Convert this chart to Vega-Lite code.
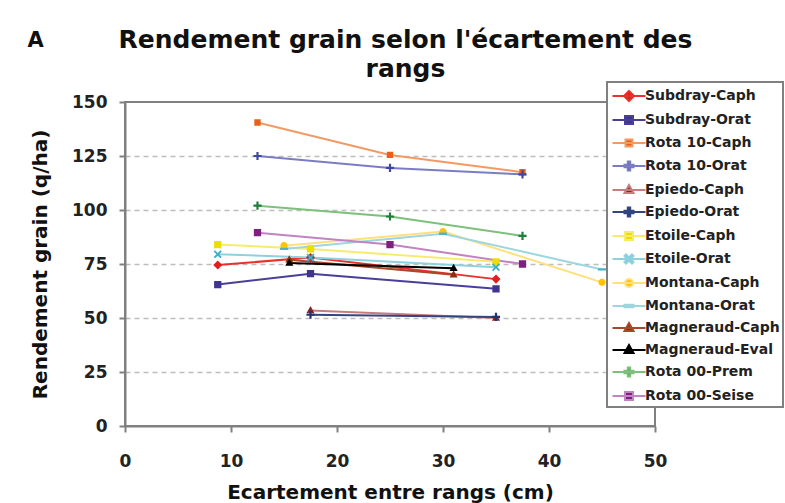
{
  "$schema": "https://vega.github.io/schema/vega-lite/v6.json",
  "width": 530,
  "height": 324,
  "autosize": {"type": "none"},
  "padding": {"left": 125, "top": 102, "right": 130, "bottom": 77},
  "background": "white",
  "config": {"view": {"stroke": "#808080", "strokeWidth": 2}, "font": "DejaVu Sans", "legend": {"strokeWidth": 2}},
  "data": {"values": [
    {"s": "Subdray-Caph", "x": 8.75, "y": 74.5},
    {"s": "Subdray-Caph", "x": 17.5, "y": 78},
    {"s": "Subdray-Caph", "x": 35, "y": 68},
    {"s": "Subdray-Orat", "x": 8.75, "y": 65.5},
    {"s": "Subdray-Orat", "x": 17.5, "y": 70.5},
    {"s": "Subdray-Orat", "x": 35, "y": 63.5},
    {"s": "Rota 10-Caph", "x": 12.5, "y": 140.5},
    {"s": "Rota 10-Caph", "x": 25, "y": 125.5},
    {"s": "Rota 10-Caph", "x": 37.5, "y": 117.5},
    {"s": "Rota 10-Orat", "x": 12.5, "y": 125},
    {"s": "Rota 10-Orat", "x": 25, "y": 119.5},
    {"s": "Rota 10-Orat", "x": 37.5, "y": 116.5},
    {"s": "Epiedo-Caph", "x": 17.5, "y": 53.5},
    {"s": "Epiedo-Caph", "x": 35, "y": 50},
    {"s": "Epiedo-Orat", "x": 17.5, "y": 51.5},
    {"s": "Epiedo-Orat", "x": 35, "y": 50.5},
    {"s": "Etoile-Caph", "x": 8.75, "y": 84},
    {"s": "Etoile-Caph", "x": 17.5, "y": 82},
    {"s": "Etoile-Caph", "x": 35, "y": 76},
    {"s": "Etoile-Orat", "x": 8.75, "y": 79.5},
    {"s": "Etoile-Orat", "x": 17.5, "y": 78},
    {"s": "Etoile-Orat", "x": 35, "y": 73.5},
    {"s": "Montana-Caph", "x": 15, "y": 83.5},
    {"s": "Montana-Caph", "x": 30, "y": 90},
    {"s": "Montana-Caph", "x": 45, "y": 66.5},
    {"s": "Montana-Orat", "x": 15, "y": 82},
    {"s": "Montana-Orat", "x": 30, "y": 89},
    {"s": "Montana-Orat", "x": 45, "y": 72.5},
    {"s": "Magneraud-Caph", "x": 15.5, "y": 77},
    {"s": "Magneraud-Caph", "x": 31, "y": 70},
    {"s": "Magneraud-Eval", "x": 15.5, "y": 75.5},
    {"s": "Magneraud-Eval", "x": 31, "y": 73},
    {"s": "Rota 00-Prem", "x": 12.5, "y": 102},
    {"s": "Rota 00-Prem", "x": 25, "y": 97},
    {"s": "Rota 00-Prem", "x": 37.5, "y": 88},
    {"s": "Rota 00-Seise", "x": 12.5, "y": 89.5},
    {"s": "Rota 00-Seise", "x": 25, "y": 84},
    {"s": "Rota 00-Seise", "x": 37.5, "y": 75}
  ]},
  "resolve": {"axis": {"x": "independent", "y": "independent"}},
  "layer": [
    {
      "mark": {"type": "line", "strokeWidth": 2},
      "encoding": {
        "x": {"field": "x", "type": "quantitative", "scale": {"domain": [0, 50], "nice": false},
          "axis": {"values": [0, 10, 20, 30, 40, 50], "grid": false, "labelFlush": false, "labelOverlap": false,
            "title": "Ecartement entre rangs (cm)", "titleFont": "DejaVu Sans", "titleFontSize": 20, "titleFontWeight": "bold", "titleColor": "#111", "titlePadding": 13,
            "labelFont": "DejaVu Sans", "labelFontSize": 17, "labelFontWeight": "bold", "labelColor": "#222", "labelPadding": 21,
            "tickSize": 6, "tickColor": "#808080", "tickWidth": 2, "domainColor": "#808080", "domainWidth": 2}},
        "y": {"field": "y", "type": "quantitative", "scale": {"domain": [0, 150], "nice": false},
          "axis": {"values": [0, 25, 50, 75, 100, 125, 150], "labelFlush": false, "labelOverlap": false,
            "title": "Rendement grain (q/ha)", "titleFont": "DejaVu Sans", "titleFontSize": 20, "titleFontWeight": "bold", "titleColor": "#111", "titlePadding": 21,
            "labelFont": "DejaVu Sans", "labelFontSize": 17, "labelFontWeight": "bold", "labelColor": "#222", "labelPadding": 12,
            "tickSize": 6, "tickColor": "#808080", "tickWidth": 2, "domainColor": "#808080", "domainWidth": 2,
            "grid": true, "gridColor": "#BDBDBD", "gridDash": [5, 4], "gridWidth": 1.5,
            "gridOpacity": {"condition": {"test": "datum.value === 0 || datum.value === 150", "value": 0}, "value": 1}}},
        "stroke": {"field": "s", "type": "nominal",
          "scale": {"domain": ["Subdray-Caph", "Subdray-Orat", "Rota 10-Caph", "Rota 10-Orat", "Epiedo-Caph", "Epiedo-Orat", "Etoile-Caph", "Etoile-Orat", "Montana-Caph", "Montana-Orat", "Magneraud-Caph", "Magneraud-Eval", "Rota 00-Prem", "Rota 00-Seise"],
            "range": ["#E8312B", "#4A3F98", "#F39A62", "#7C7CC4", "#C97C7C", "#33457F", "#F7EC6A", "#8FD0DF", "#FFE07C", "#9ED6E0", "#A8482A", "#000000", "#7CC07C", "#C283C2"]},
          "legend": {"title": null, "orient": "none", "legendX": 482, "legendY": -20,
            "symbolSize": 400, "symbolOffset": 8, "labelOffset": 5, "rowPadding": 4, "padding": 3,
            "labelFont": "DejaVu Sans", "labelFontSize": 14, "labelFontWeight": "bold", "labelColor": "#222",
            "strokeColor": "#808080", "fillColor": "white", "labelLimit": 300, "symbolStrokeWidth": 2}}
      }
    },
    {
      "mark": {"type": "point", "filled": true, "size": 330, "opacity": 1},
      "encoding": {
        "x": {"field": "x", "type": "quantitative", "axis": null},
        "y": {"field": "y", "type": "quantitative", "axis": null},
        "fill": {"field": "s", "type": "nominal",
          "scale": {"domain": ["Subdray-Caph", "Subdray-Orat", "Rota 10-Caph", "Rota 10-Orat", "Epiedo-Caph", "Epiedo-Orat", "Etoile-Caph", "Etoile-Orat", "Montana-Caph", "Montana-Orat", "Magneraud-Caph", "Magneraud-Eval", "Rota 00-Prem", "Rota 00-Seise"],
            "range": ["#E02020", "#3F3590", "#EB5E1E", "#3F48A0", "#8B2525", "#22336F", "#EEDD00", "#3FB0C8", "#FFC400", "#4AB5C6", "#8B3010", "#000000", "#1E7F3A", "#7F1F7F"]},
          "legend": {"title": null, "orient": "none", "legendX": 482, "legendY": -20,
            "symbolSize": 400, "symbolOffset": 8, "labelOffset": 5, "rowPadding": 4, "padding": 3,
            "labelFont": "DejaVu Sans", "labelFontSize": 14, "labelFontWeight": "bold", "labelColor": "#222",
            "strokeColor": "#808080", "fillColor": "white", "labelLimit": 300, "symbolStrokeWidth": 2}},
        "shape": {"field": "s", "type": "nominal",
          "scale": {"domain": ["Subdray-Caph", "Subdray-Orat", "Rota 10-Caph", "Rota 10-Orat", "Epiedo-Caph", "Epiedo-Orat", "Etoile-Caph", "Etoile-Orat", "Montana-Caph", "Montana-Orat", "Magneraud-Caph", "Magneraud-Eval", "Rota 00-Prem", "Rota 00-Seise"],
            "range": [
              "M-1.65,0H1.65M0,-0.5L0.5,0L0,0.5L-0.5,0Z",
              "M-1.65,0H1.65M-0.4,-0.4H0.4V0.4H-0.4Z",
              "M-1.65,0H1.65M-0.35,-0.35H0.35V0.35H-0.35Z",
              "M-1.65,0H1.65M-0.45,-0.12H-0.12V-0.45H0.12V-0.12H0.45V0.12H0.12V0.45H-0.12V0.12H-0.45Z",
              "M-1.65,0H1.65M0,-0.5L0.45,0.3H-0.45Z",
              "M-1.65,0H1.65M-0.45,-0.12H-0.12V-0.45H0.12V-0.12H0.45V0.12H0.12V0.45H-0.12V0.12H-0.45Z",
              "M-1.65,0H1.65M-0.4,-0.4H0.4V0.4H-0.4Z",
              "M-1.65,0H1.65M-0.45,-0.3L-0.3,-0.45L0,-0.15L0.3,-0.45L0.45,-0.3L0.15,0L0.45,0.3L0.3,0.45L0,0.15L-0.3,0.45L-0.45,0.3L-0.15,0Z",
              "M-1.65,0H1.65M-0.4,0A0.4,0.4,0,1,0,0.4,0A0.4,0.4,0,1,0,-0.4,0Z",
              "M-1.65,0H1.65M-0.45,-0.13H0.45V0.13H-0.45Z",
              "M-1.65,0H1.65M0,-0.5L0.45,0.3H-0.45Z",
              "M-1.65,0H1.65M0,-0.5L0.45,0.3H-0.45Z",
              "M-1.65,0H1.65M-0.45,-0.12H-0.12V-0.45H0.12V-0.12H0.45V0.12H0.12V0.45H-0.12V0.12H-0.45Z",
              "M-1.65,0H1.65M-0.4,-0.4H0.4V0.4H-0.4Z"
            ]},
          "legend": {"title": null, "orient": "none", "legendX": 482, "legendY": -20,
            "symbolSize": 400, "symbolOffset": 8, "labelOffset": 5, "rowPadding": 4, "padding": 3,
            "labelFont": "DejaVu Sans", "labelFontSize": 14, "labelFontWeight": "bold", "labelColor": "#222",
            "strokeColor": "#808080", "fillColor": "white", "labelLimit": 300, "symbolStrokeWidth": 2}}
      }
    },
    {
      "transform": [{"filter": "false"}],
      "mark": {"type": "point"},
      "encoding": {
        "x": {"field": "x", "type": "quantitative",
          "axis": {"orient": "top", "title": "A", "labels": false, "ticks": false, "domain": false, "grid": false,
            "titleAngle": 0, "titleX": -90, "titleY": -62, "titleAlign": "center", "titleBaseline": "middle",
            "titleFont": "DejaVu Sans", "titleFontSize": 21, "titleFontWeight": "bold", "titleColor": "#111"}},
        "y": {"field": "y", "type": "quantitative",
          "axis": {"orient": "right", "title": ["Rendement grain selon l'écartement des", "rangs"], "labels": false, "ticks": false, "domain": false, "grid": false,
            "titleAngle": 0, "titleX": -250, "titleY": -55, "titleAlign": "center", "titleBaseline": "alphabetic", "titleLineHeight": 29,
            "titleFont": "DejaVu Sans", "titleFontSize": 25, "titleFontWeight": "bold", "titleColor": "#111"}}
      }
    }
  ]
}
